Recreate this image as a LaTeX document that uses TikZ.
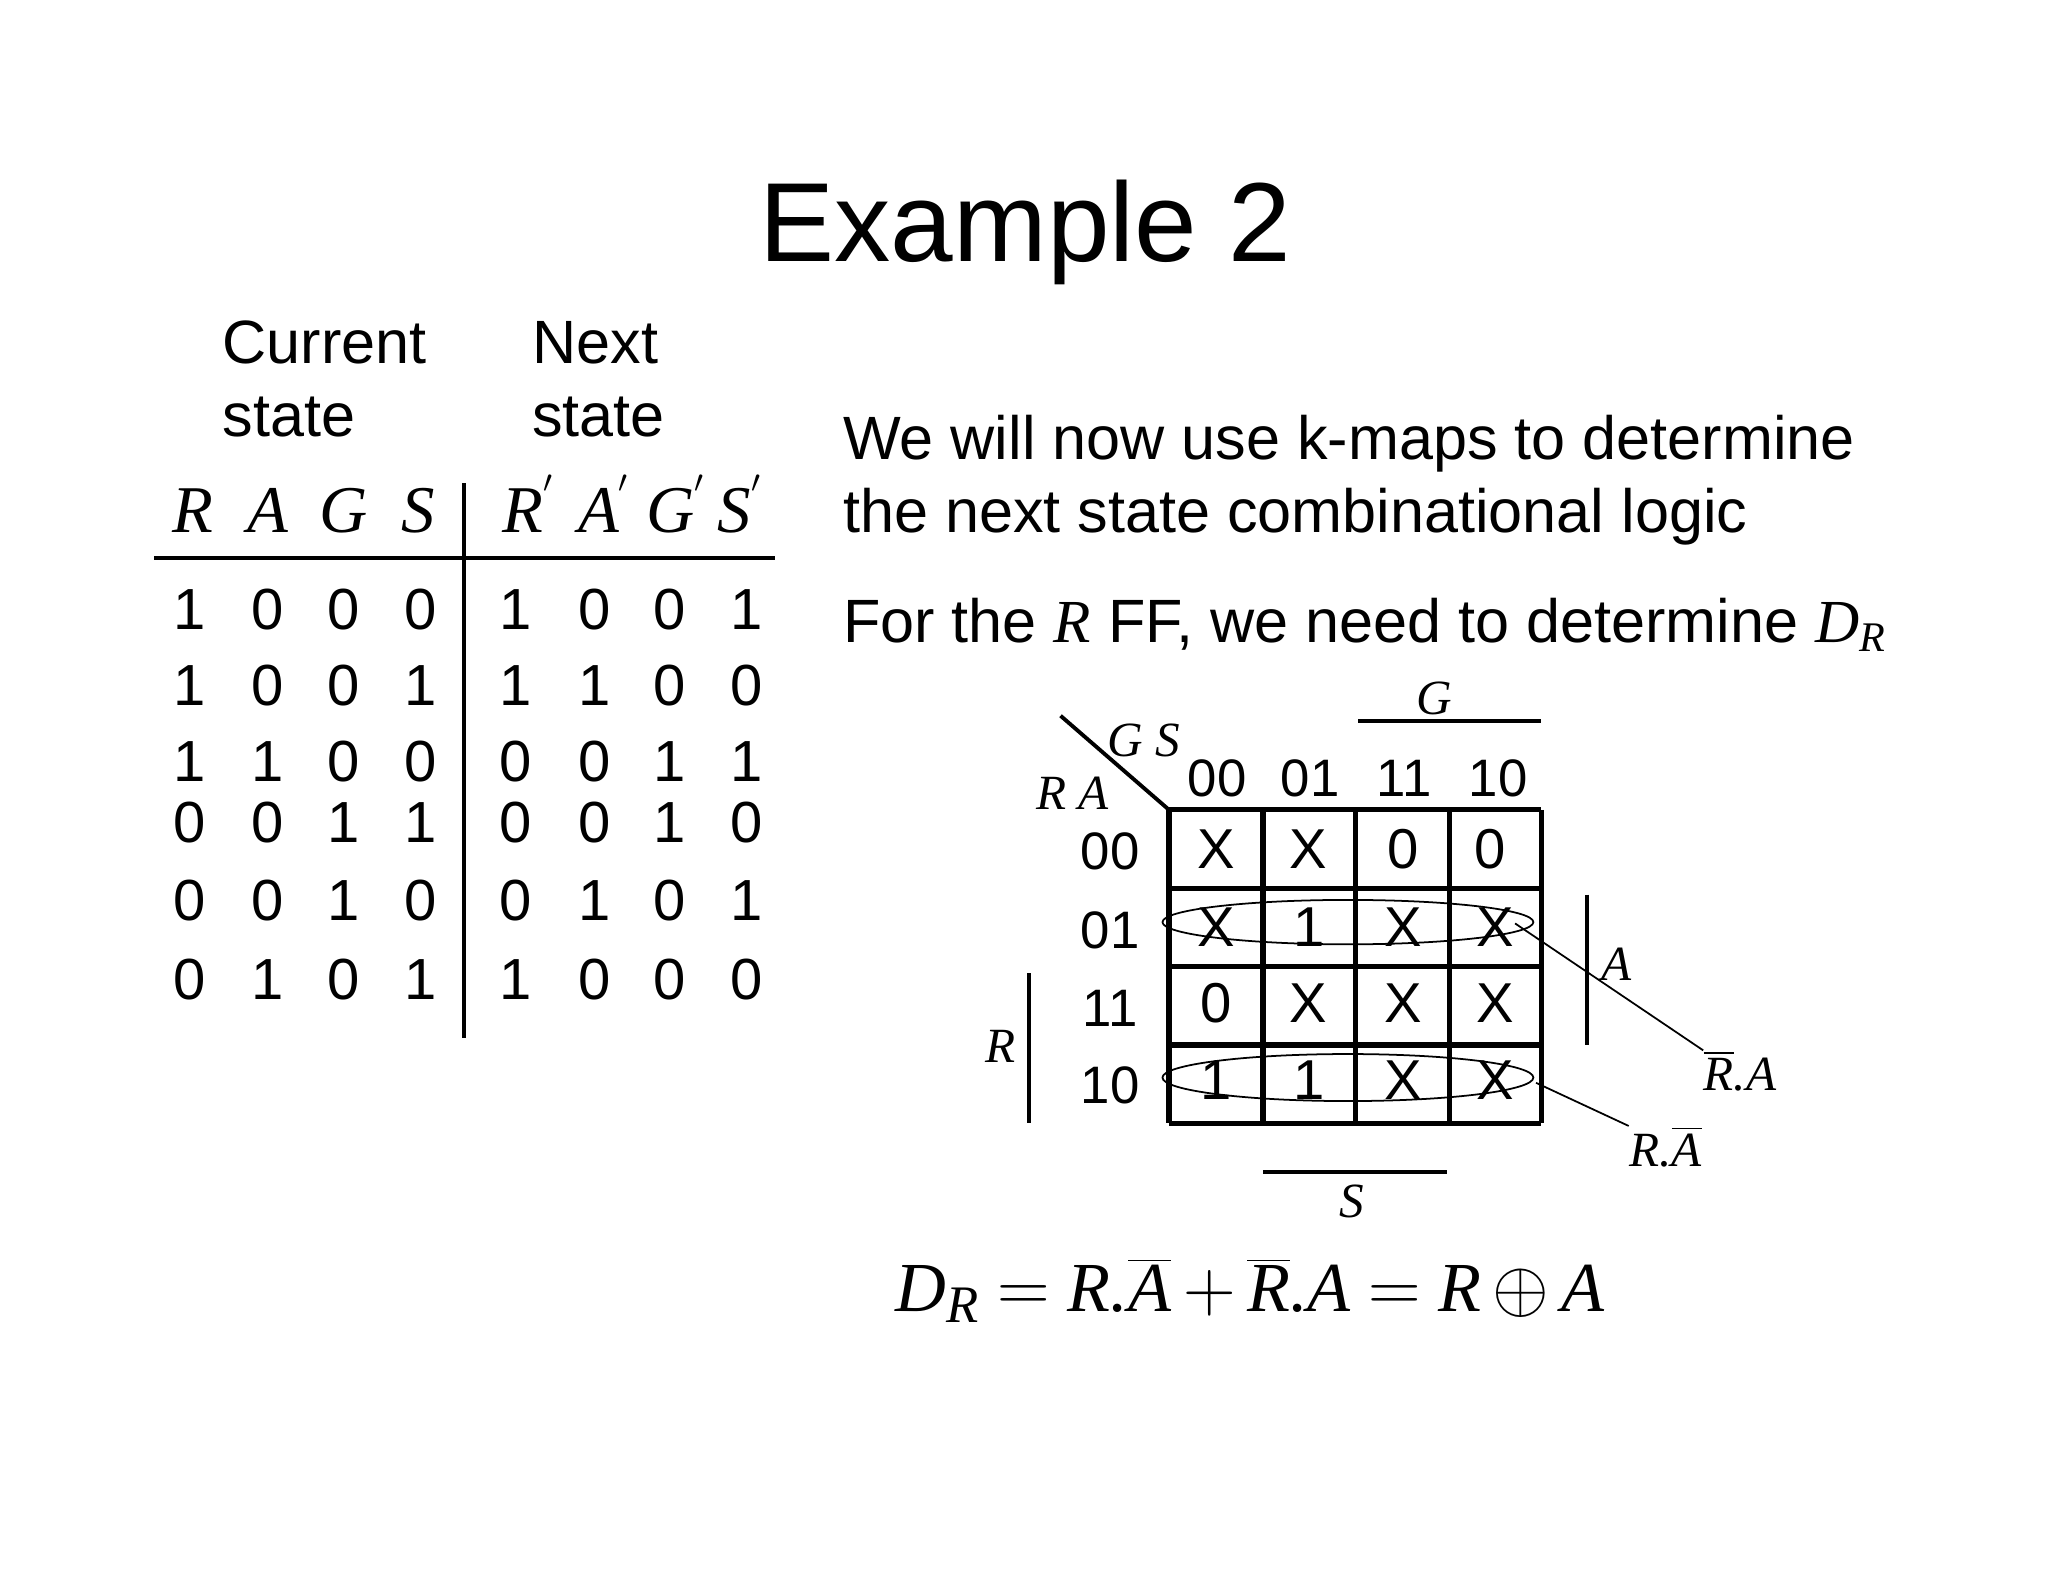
\documentclass[tikz,border=0pt]{standalone}
\usepackage{fontspec}
\setmainfont{Liberation Sans}
\newfontfamily\tms{Liberation Serif}
\newcommand{\iv}[1]{{\tms\itshape #1}}
\begin{document}
\begin{tikzpicture}[x=0.01306cm,y=-0.01306cm,
  sf/.style={inner sep=0pt,font=\fontsize{16.5}{18}\selectfont},
  km/.style={inner sep=0pt,font=\fontsize{15}{17}\selectfont},
  it/.style={inner sep=0pt,font=\fontsize{14}{16}\tms\itshape},
  txt/.style={inner sep=0pt,anchor=base west,font=\fontsize{17.4}{20}\selectfont},
  tl/.style={line width=1.1pt},
  gl/.style={line width=1.5pt},
  thin/.style={line width=0.5pt}]
\useasboundingbox (0,0) rectangle (1568,1211);
\node[inner sep=0pt,font=\fontsize{32}{36}\selectfont] (title) at (785,178) {Example 2};
% table headings
\node[txt] (cur1) at (170,278) {Current};
\node[txt] (cur2) at (170,334) {state};
\node[txt] (nxt1) at (407,278) {Next};
\node[txt] (nxt2) at (407,334) {state};
\foreach \l/\x [count=\i] in {R/148,A/205,G/263,S/320}
  \node[inner sep=0pt,anchor=base,font=\fontsize{19}{20}\tms\itshape] (h\i) at (\x,408) {\l};
\foreach \l/\x [count=\i] in {R/405,A/463,G/518,S/567}
  \node[inner sep=0pt,anchor=base,font=\fontsize{19}{20}\tms\itshape] (hn\i) at (\x,408) {\l$^{'}$};
\coordinate (hl1) at (118,427); \coordinate (hl2) at (593,427);
\coordinate (vl1) at (355,370); \coordinate (vl2) at (355,795);
\draw[tl] (hl1) -- (hl2);
\draw[tl] (vl1) -- (vl2);
\foreach \a/\b/\c/\d/\e/\f/\g/\h/\y [count=\r] in {1/0/0/0/1/0/0/1/482,1/0/0/1/1/1/0/0/540,1/1/0/0/0/0/1/1/598,0/0/1/1/0/0/1/0/645,0/0/1/0/0/1/0/1/705,0/1/0/1/1/0/0/0/765}{
  \node[sf,anchor=base] (t\r a) at (145,\y) {\a};
  \node[sf,anchor=base] (t\r b) at (205,\y) {\b};
  \node[sf,anchor=base] (t\r c) at (263,\y) {\c};
  \node[sf,anchor=base] (t\r d) at (322,\y) {\d};
  \node[sf,anchor=base] (t\r e) at (395,\y) {\e};
  \node[sf,anchor=base] (t\r f) at (455,\y) {\f};
  \node[sf,anchor=base] (t\r g) at (513,\y) {\g};
  \node[sf,anchor=base] (t\r h) at (572,\y) {\h};
}
% right text
\node[txt] (w1) at (645,352) {We will now use k-maps to determine};
\node[txt] (w2) at (645,408) {the next state combinational logic};
\node[txt] (w3) at (645,492) {For the \iv{R} FF, we need to determine \iv{D}$_{\hbox{\fontsize{12}{12}\tms\itshape R}}$};
% k-map grid
\foreach \x in {895,967,1038,1110,1180} \draw[gl] (\x,620) -- (\x,860);
\foreach \y in {620,680,740,800,860} \draw[gl] (895,\y) -- (1180,\y);
\coordinate (d1) at (812,548); \coordinate (d2) at (895,620);
\draw[tl] (d1) -- (d2);
\node[it] (gs) at (876,567) {G S};
\node[it] (ra) at (821,607) {R A};
\foreach \l/\x [count=\i] in {00/932,01/1003,11/1075,10/1147}
  \node[km,anchor=base] (c\i) at (\x,610) {\l};
\foreach \l/\y [count=\i] in {00/666,01/726,11/786,10/845}
  \node[km,anchor=base] (r\i) at (850,\y) {\l};
\foreach \v/\x/\y [count=\i] in {X/931/650,X/1002/650,0/1074/650,0/1141/650,
  X/931/710,1/1002/710,X/1074/710,X/1145/710,
  0/931/768,X/1002/768,X/1074/768,X/1145/768,
  1/931/827,1/1002/827,X/1074/827,X/1145/827}
  \node[km,font=\fontsize{16}{18}\selectfont] (v\i) at (\x,\y) {\v};
% bars
\draw[tl] (1040,552) -- (1180,552); \node[it] (gl) at (1098,535) {G};
\draw[tl] (967,897) -- (1108,897); \node[it] (sl) at (1035,920) {S};
\draw[tl] (1215,685) -- (1215,800); \node[it] (al) at (1238,738) {A};
\draw[tl] (788,745) -- (788,860); \node[it] (rl) at (766,801) {R};
% ellipses
\draw[thin] (1032,706) ellipse [x radius=142,y radius=17];
\draw[thin] (1032,825) ellipse [x radius=142,y radius=18];
\node[it,anchor=west] (ra1) at (1304,820) {$\overline{\hbox{\iv{R}}}\hbox{\iv{.A}}$};
\node[it,anchor=west] (ra2) at (1247,878) {\iv{R.}$\overline{\hbox{\iv{A}}}$};
\coordinate (e1) at (1160,707); \coordinate (e2) at (1176,829);
\draw[thin] (e1) -- (ra1.north west);
\draw[thin] (e2) -- (ra2.north west);
% equation
\node[inner sep=0pt,font=\fontsize{20}{24}\tms\itshape] (eq) at (957,988)
 {D$_{\hbox{\fontsize{15}{15}\tms\itshape R}}$ $=$ R.$\overline{\hbox{A}}$\,$+$\,$\overline{\hbox{R}}$.A $=$ R\,$\oplus$\,A};
\end{tikzpicture}
\end{document}
